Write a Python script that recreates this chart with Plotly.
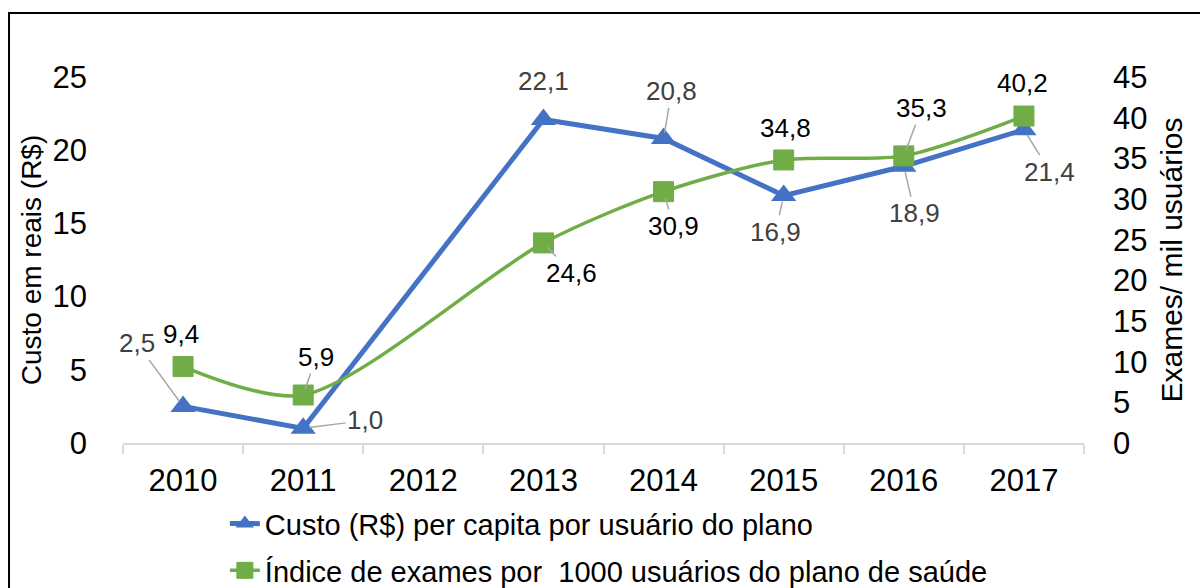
import plotly.graph_objects as go

years = ["2010", "2011", "2012", "2013", "2014", "2015", "2016", "2017"]
custo = [2.5, 1.0, None, 22.1, 20.8, 16.9, 18.9, 21.4]
exames = [9.4, 5.9, None, 24.6, 30.9, 34.8, 35.3, 40.2]
custo_labels = ["2,5", "1,0", None, "22,1", "20,8", "16,9", "18,9", "21,4"]
exames_labels = ["9,4", "5,9", None, "24,6", "30,9", "34,8", "35,3", "40,2"]

name_custo = "Custo (R$) per capita por usuário do plano"
name_exames = "Índice de exames por  1000 usuários do plano de saúde"

BLUE = "#4472C4"
GREEN = "#70AD47"
FONT = "Liberation Sans, Arial, sans-serif"

# label offsets in px (dx, dy) and whether a leader line is drawn
custo_pos = [(-46, -63, True), (62, -8, True), None, (0, -38, False),
             (8, -47, True), (-8, 36, True), (11, 47, True), (26, 42, True)]
exames_pos = [(-2, -33, False), (13, -38, True), None, (28, 30, True),
              (10, 34, True), (2, -32, False), (18, -48, True), (-1, -33, False)]

fig = go.Figure()
fig.add_trace(go.Scatter(
    x=years, y=custo, name=name_custo, mode="lines+markers",
    connectgaps=True, yaxis="y",
    line=dict(color=BLUE, width=5),
    marker=dict(symbol="triangle-up", size=22, color=BLUE),
    legendgroup="a",
))
fig.add_trace(go.Scatter(
    x=years, y=exames, name=name_exames, mode="lines+markers",
    connectgaps=True, yaxis="y2",
    line=dict(color=GREEN, width=3.5, shape="spline", smoothing=0.8),
    marker=dict(symbol="square", size=20, color=GREEN,
                line=dict(color=GREEN, width=1)),
    legendgroup="b",
))

annotations = []
for vals, labs, pos, yref, col in [
    (custo, custo_labels, custo_pos, "y", "#404040"),
    (exames, exames_labels, exames_pos, "y2", "#000000"),
]:
    for i, (v, lab, p) in enumerate(zip(vals, labs, pos)):
        if v is None:
            continue
        dx, dy, leader = p
        if leader:
            annotations.append(dict(
                x=i, y=v, xref="x", yref=yref, text=lab, showarrow=True,
                ax=dx, ay=dy, arrowhead=0, arrowwidth=1.5,
                arrowcolor="#a6a6a6", standoff=6,
                font=dict(size=26, color=col, family=FONT),
            ))
        else:
            annotations.append(dict(
                x=i, y=v, xref="x", yref=yref, text=lab, showarrow=False,
                xshift=dx, yshift=-dy,
                font=dict(size=26, color=col, family=FONT),
            ))

fig.update_layout(
    width=1200, height=588, autosize=False,
    margin=dict(l=123, r=116, t=77, b=145, autoexpand=False),
    paper_bgcolor="white", plot_bgcolor="white",
    font=dict(family=FONT, color="#000000"),
    xaxis=dict(
        type="category", showgrid=False, showline=True, linecolor="#d9d9d9",
        linewidth=2, ticks="outside", tickson="boundaries", ticklen=9,
        tickcolor="#d9d9d9", tickwidth=2, tickfont=dict(size=31),
        ticklabelstandoff=9, range=[-0.5, 7.5],
    ),
    yaxis=dict(
        range=[0, 25], dtick=5, showgrid=False, zeroline=False,
        tickfont=dict(size=31), ticklabelstandoff=35,
        title=dict(text="Custo em reais (R$)", font=dict(size=28), standoff=2),
    ),
    yaxis3=dict(
        overlaying="y", range=[0, 25], tickvals=[5, 10, 15, 20],
        showticklabels=False, showgrid=True, gridcolor="#a6a6a6",
        gridwidth=2, zeroline=False,
    ),
    yaxis2=dict(
        overlaying="y", side="right", range=[0, 45], dtick=5,
        showgrid=False, zeroline=False, tickfont=dict(size=31),
        ticklabelstandoff=28,
        title=dict(text="Exames/ mil usuários", font=dict(size=30), standoff=14),
    ),
    legend=dict(
        x=0.106, y=-0.151, xanchor="left", yanchor="top",
        font=dict(size=29), traceorder="grouped", tracegroupgap=6,
        bgcolor="rgba(0,0,0,0)",
    ),
    annotations=annotations,
    shapes=[dict(
        type="rect", xref="paper", yref="paper",
        x0=-0.1186, x1=1.13, y0=-0.43, y1=1.175,
        line=dict(color="black", width=2), layer="below",
    )],
)

fig.write_html(
    "out.html",
    config={"displayModeBar": False},
    post_script="document.body.style.margin='0';document.body.style.overflow='hidden';",
)
